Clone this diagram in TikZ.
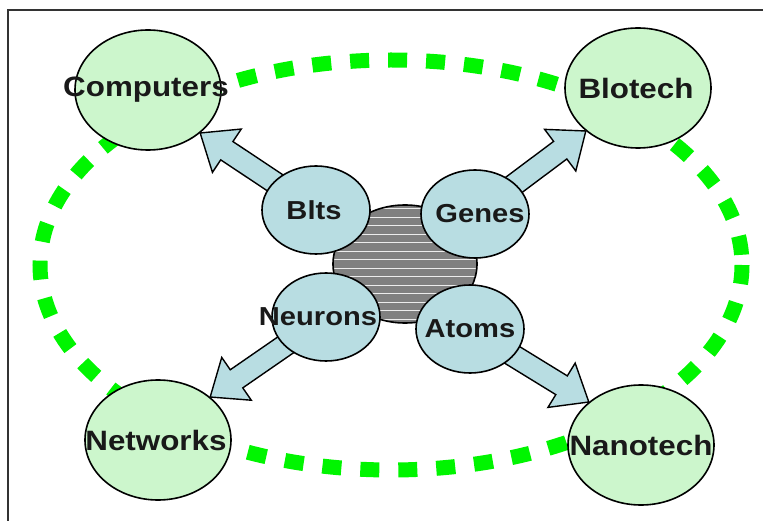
\documentclass[tikz,border=0pt]{standalone}
\usepackage{fontspec}
\setmainfont{Liberation Sans}
\usetikzlibrary{shapes.geometric, calc}

\definecolor{limegreen}{RGB}{0,245,0}
\definecolor{palegreen}{RGB}{204,246,204}
\definecolor{paleblue}{RGB}{184,221,226}
\definecolor{inkgray}{RGB}{25,25,25}

\pgfdeclarelayer{background}
\pgfsetlayers{background,main}

% label of zero width, so the ellipse keeps its own size
\newcommand\wide[2][0pt]{\makebox[0pt]{\kern#1\raisebox{-3pt}{\scalebox{1.12}[1]{#2}}}}

% fat arrow from the middle of #1 to the rim point #2
\newcommand\blockarrow[2]{%
  \coordinate (ba) at (#1);
  \coordinate (bt) at (#2);
  \coordinate (bb) at ($(bt)!32pt!(ba)$);
  \draw[arrowbody] ($(ba)!11pt!90:(bt)$) -- ($(bb)!11pt!90:(bt)$)
    -- ($(bb)!26pt!90:(bt)$) -- (bt) -- ($(bb)!26pt!-90:(bt)$)
    -- ($(bb)!11pt!-90:(bt)$) -- ($(ba)!11pt!-90:(bt)$) -- cycle;}

\begin{document}
\begin{tikzpicture}[x=1pt, y=-1pt,
  field/.style={ellipse, draw=black, line width=1.6pt, fill=palegreen,
    minimum width=146pt, minimum height=120pt, inner sep=0pt,
    text=inkgray, font=\fontsize{28}{30}\selectfont\bfseries},
  seed/.style={field, fill=paleblue, minimum width=108pt,
    minimum height=88pt, font=\fontsize{26}{28}\selectfont\bfseries},
  stripe/.style={draw=white!85!gray, line width=1.3pt},
  hub/.style={ellipse, draw=black, line width=1.6pt, fill=gray,
    minimum width=144pt, minimum height=118pt,
    path picture={\foreach \k in {-7,...,6}
      \draw[stripe] ([yshift=(\k+0.5)*8.5pt]path picture bounding box.west)
        -- ([yshift=(\k+0.5)*8.5pt]path picture bounding box.east);}},
  arrowbody/.style={draw=black, line width=1.4pt, fill=paleblue},
  ring/.style={draw=limegreen, line width=15pt, dash pattern=on 19pt off 19pt}]

\useasboundingbox (0,0) rectangle (763,521);
\draw[line width=1.5pt, draw=black!80] (8,530) -- (8,10) -- (775,10);

% outer fields
\node[field] (computers) at (148,90) {\wide[-4pt]{Computers}};
\node[field] (blotech) at (638,88) {\wide[-4pt]{Blotech}};
\node[field] (networks) at (158,440) {\wide[-4pt]{Networks}};
\node[field] (nanotech) at (641,445) {\wide{Nanotech}};

% striped core and the four seeds on it
\node[hub] (hub) at (405,264) {};
\node[seed] (bits) at (316,210) {\wide[-4pt]{Blts}};
\node[seed] (genes) at (475,214) {\wide[10pt]{Genes}};
\node[seed] (neurons) at (326,317) {\wide[-16pt]{Neurons}};
\node[seed] (atoms) at (470,329) {\wide{Atoms}};

\begin{pgfonlayer}{background}
  \draw[ring] (391,265) ellipse [x radius=351, y radius=205];
  \blockarrow{bits.center}{computers.south east}
  \blockarrow{genes.center}{blotech.south west}
  \blockarrow{neurons.center}{networks.north east}
  \blockarrow{atoms.center}{nanotech.north west}
\end{pgfonlayer}

\end{tikzpicture}
\end{document}
